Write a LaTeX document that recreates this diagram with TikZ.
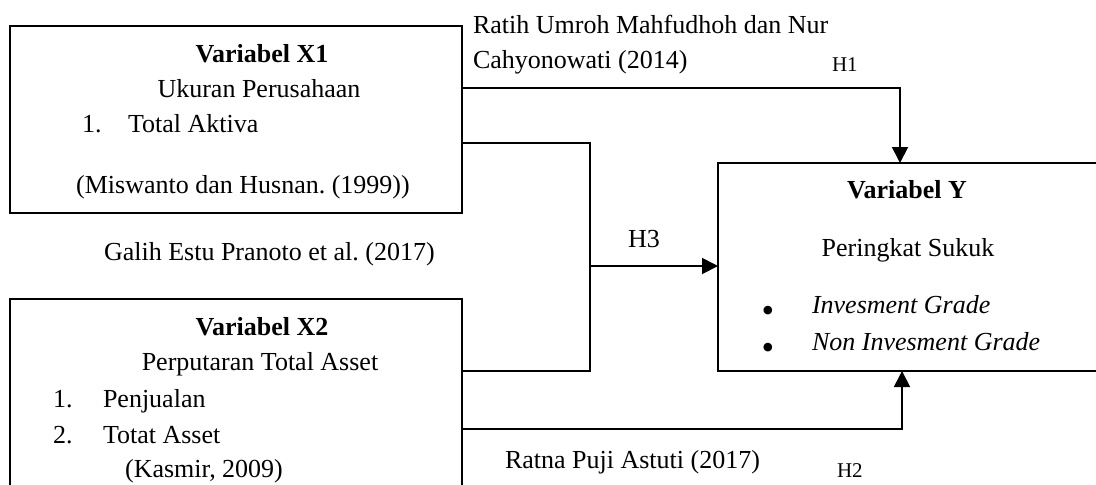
\documentclass[tikz,border=0pt]{standalone}
\usepackage{fontspec}
\setmainfont{Liberation Serif}
\usetikzlibrary{arrows.meta}
\frenchspacing
\begin{document}
\begin{tikzpicture}[x=0.5pt, y=-0.5pt, font=\fontsize{13}{15}\selectfont, every node/.style={inner sep=0pt, outer sep=0pt}, box/.style={draw, line width=0.9pt}, link/.style={line width=0.9pt}, arrow/.style={link, -{Triangle[length=8pt, width=8pt]}}, hlabel/.style={font=\fontsize{10.5}{12}\selectfont, anchor=base west}, bulletmark/.style={font=\fontsize{18}{18}\selectfont, anchor=base}, line join=miter]

	\useasboundingbox (0,0) rectangle (1096,484);

	% Kotak variabel
	\node[box, minimum width=226pt, minimum height=93.5pt] (x1) at (236,119.5) {};
	\node[box, minimum width=226pt, minimum height=110pt] (x2) at (236,409) {};
	\node[box, minimum width=196pt, minimum height=104pt] (y) at (914,267) {};

	% Isi kotak X1
	\node[anchor=base] (x1judul) at (262,62) {\textbf{Variabel X1}};
	\node[anchor=base] (x1nama) at (259,97) {Ukuran Perusahaan};
	\node[anchor=base west] (x1no) at (82,132) {1.};
	\node[anchor=base west] (x1ind) at (128,132) {Total Aktiva};
	\node[anchor=base] (x1sumber) at (243,193) {(Miswanto dan Husnan. (1999))};

	% Isi kotak X2
	\node[anchor=base] (x2judul) at (262,335) {\textbf{Variabel X2}};
	\node[anchor=base] (x2nama) at (260,370) {Perputaran Total Asset};
	\node[anchor=base west] (x2noa) at (53,407) {1.};
	\node[anchor=base west] (x2inda) at (103,407) {Penjualan};
	\node[anchor=base west] (x2nob) at (53,443) {2.};
	\node[anchor=base west] (x2indb) at (103,443) {Totat Asset};
	\node[anchor=base] (x2sumber) at (204,477) {(Kasmir, 2009)};

	% Isi kotak Y
	\node[anchor=base] (yjudul) at (907,198) {\textbf{Variabel Y}};
	\node[anchor=base] (ynama) at (908,256) {Peringkat Sukuk};
	\node[bulletmark] (ybula) at (768,322) {\smash{\textbullet}};
	\node[anchor=base west] (yinda) at (812,313) {\textit{Invesment Grade}};
	\node[bulletmark] (ybulb) at (768,359) {\smash{\textbullet}};
	\node[anchor=base west] (yindb) at (812,350) {\textit{Non Invesment Grade}};

	% Sumber penelitian terdahulu
	\node[anchor=base west] (ratih) at (473,33) {Ratih Umroh Mahfudhoh dan Nur};
	\node[anchor=base west] (cahyo) at (473,68) {Cahyonowati (2014)};
	\node[anchor=base west] (galih) at (104,260) {Galih Estu Pranoto et al. (2017)};
	\node[anchor=base west] (ratna) at (505,468) {Ratna Puji Astuti (2017)};

	% Hipotesis
	\node[hlabel] (lh1) at (832,71) {H1};
	\node[anchor=base west] (lh3) at (628,247) {H3};
	\node[hlabel] (lh2) at (837,477) {H2};

	% Garis H1
	\coordinate (h1) at (900,88);
	\draw[arrow] (x1.east |- h1) -| (y.north -| h1);

	% Garis H3
	\coordinate (j3) at (590,266);
	\draw[link] (x1.east |- 0,143) -| (j3) |- (x2.east |- 0,371);
	\draw[arrow] (j3) -- (j3 -| y.west);

	% Garis H2
	\coordinate (h2) at (902,429);
	\draw[arrow] (x2.east |- h2) -| (y.south -| h2);

\end{tikzpicture}
\end{document}
